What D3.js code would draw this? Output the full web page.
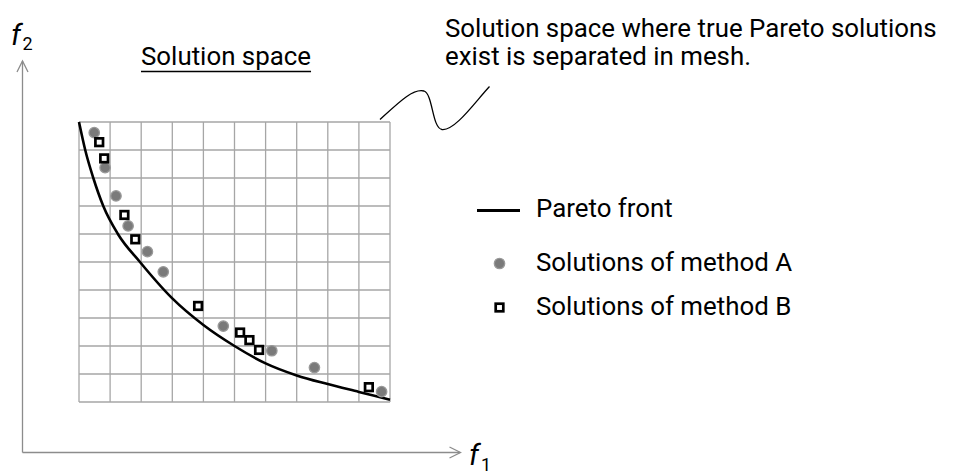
<!DOCTYPE html>
<html>
<head>
<meta charset="utf-8">
<script src="https://cdn.jsdelivr.net/npm/d3@7"></script>
<style>
  html, body { margin: 0; padding: 0; background: #fff; }
  svg { display: block; }
  text { font-family: Roboto, "Liberation Sans", sans-serif; fill: #000; }
</style>
</head>
<body>
<svg id="chart" width="969" height="475"></svg>
<script>
// Pareto front (objective space in mesh units, 10 x 10 cells)
const frontF1 = [0, 0.2, 0.46, 0.78, 1.25, 1.96, 3, 4, 5, 6, 7, 8, 9, 10];
const frontF2 = [10, 9, 8, 7, 6, 5, 3.7, 2.75, 2.0, 1.38, 0.95, 0.64, 0.36, 0.08];

// Solutions found by method A (grey dots)
const methodAF1 = [0.49, 0.84, 1.19, 1.58, 2.20, 2.71, 4.64, 6.20, 7.57, 9.73];
const methodAF2 = [9.62, 8.37, 7.36, 6.29, 5.37, 4.65, 2.71, 1.83, 1.23, 0.37];

// Solutions found by method B (open squares)
const methodBF1 = [0.65, 0.81, 1.46, 1.81, 3.83, 5.18, 5.48, 5.79, 9.32];
const methodBF2 = [9.28, 8.70, 6.68, 5.81, 3.43, 2.48, 2.21, 1.86, 0.53];

// Mesh cell boundaries
const meshTicks = d3.range(0, 11);

const legendLabels = ["Pareto front", "Solutions of method A", "Solutions of method B"];
const titleText = "Solution space";
const noteLines = ["Solution space where true Pareto solutions", "exist is separated in mesh."];

const svg = d3.select("#chart");

const x = d3.scaleLinear().domain([0, 10]).range([79, 390]);
const y = d3.scaleLinear().domain([0, 10]).range([402, 122]);

// Pick one font size so the long note line spans ~492px
const probe = svg.append("text").style("font-size", "20px").text(noteLines[0]);
const FONT = Math.min(26, 20 * 492 / probe.node().getComputedTextLength());
probe.remove();

// ---- outer objective axes with open arrow heads ----
const axisColor = "#8c8c8c";
const ax = svg.append("g").attr("stroke", axisColor).attr("stroke-width", 1.3).attr("fill", "none");
ax.append("line").attr("x1", 22.5).attr("y1", 452.5).attr("x2", 22.5).attr("y2", 61);
ax.append("line").attr("x1", 22.5).attr("y1", 452.5).attr("x2", 460).attr("y2", 452.5);
ax.append("path").attr("d", "M17,72 L22.5,61 L28,72");
ax.append("path").attr("d", "M449.5,447 L460.5,452.5 L449.5,458");

// axis labels f2 / f1
svg.append("text").attr("x", 11).attr("y", 45)
  .style("font-size", "29px").style("font-style", "italic").text("f");
svg.append("text").attr("x", 22.5).attr("y", 50).style("font-size", "18px").text("2");
svg.append("text").attr("x", 469).attr("y", 465)
  .style("font-size", "29px").style("font-style", "italic").text("f");
svg.append("text").attr("x", 481).attr("y", 471).style("font-size", "18px").text("1");

// ---- mesh ----
const grid = svg.append("g").attr("stroke", "#a6a6a6").attr("stroke-width", 1.3);
grid.selectAll("line.v").data(meshTicks).join("line").attr("class", "v")
  .attr("x1", d => x(d)).attr("x2", d => x(d)).attr("y1", y(0)).attr("y2", y(10));
grid.selectAll("line.h").data(meshTicks).join("line").attr("class", "h")
  .attr("y1", d => y(d)).attr("y2", d => y(d)).attr("x1", x(0)).attr("x2", x(10));

// ---- Pareto front ----
const frontPts = frontF1.map((v, i) => [v, frontF2[i]]);
const line = d3.line().x(d => x(d[0])).y(d => y(d[1])).curve(d3.curveMonotoneX);
svg.append("path").datum(frontPts).attr("d", line)
  .attr("fill", "none").attr("stroke", "#000").attr("stroke-width", 2.6);

// ---- method A ----
const dotR = 5.2;
const aPts = methodAF1.map((v, i) => [v, methodAF2[i]]);
svg.append("g").selectAll("circle").data(aPts).join("circle")
  .attr("cx", d => x(d[0])).attr("cy", d => y(d[1])).attr("r", dotR)
  .attr("fill", "#7a7a7a").attr("stroke", "#999").attr("stroke-width", 1.3);

// ---- method B ----
const bPts = methodBF1.map((v, i) => [v, methodBF2[i]]);
const sq = 7.6;
svg.append("g").selectAll("rect").data(bPts).join("rect")
  .attr("x", d => x(d[0]) - sq / 2).attr("y", d => y(d[1]) - sq / 2)
  .attr("width", sq).attr("height", sq)
  .attr("fill", "#fff").attr("stroke", "#000").attr("stroke-width", 2.7);

// ---- title over the mesh (underlined) ----
const title = svg.append("text").attr("x", 141).attr("y", 65).style("font-size", FONT + "px").text(titleText);
const tw = title.node().getComputedTextLength();
svg.append("line").attr("x1", 141).attr("x2", 141 + tw).attr("y1", 71.5).attr("y2", 71.5)
  .attr("stroke", "#000").attr("stroke-width", 1.5);

// ---- callout note and squiggle ----
svg.selectAll("text.note").data(noteLines).join("text").attr("class", "note")
  .attr("x", 445).attr("y", (d, i) => 37 + i * 28).style("font-size", FONT + "px").text(d => d);
svg.append("path")
  .attr("d", "M380,119.5 C398,103 413,88 424,91 C433,94 432,128 442,129.5 C455,131 475,102 489.5,86.5")
  .attr("fill", "none").attr("stroke", "#000").attr("stroke-width", 1.3);

// ---- legend ----
const lg = svg.append("g");
lg.append("line").attr("x1", 477).attr("x2", 520).attr("y1", 210.5).attr("y2", 210.5)
  .attr("stroke", "#000").attr("stroke-width", 3);
lg.append("circle").attr("cx", 499.5).attr("cy", 263.5).attr("r", dotR)
  .attr("fill", "#7a7a7a").attr("stroke", "#999").attr("stroke-width", 1.3);
lg.append("rect").attr("x", 499.5 - sq / 2).attr("y", 307.5 - sq / 2).attr("width", sq).attr("height", sq)
  .attr("fill", "#fff").attr("stroke", "#000").attr("stroke-width", 2.7);
const legendBase = [217, 271, 315];
lg.selectAll("text").data(legendLabels).join("text")
  .attr("x", 536).attr("y", (d, i) => legendBase[i]).style("font-size", FONT + "px").text(d => d);
</script>
</body>
</html>
